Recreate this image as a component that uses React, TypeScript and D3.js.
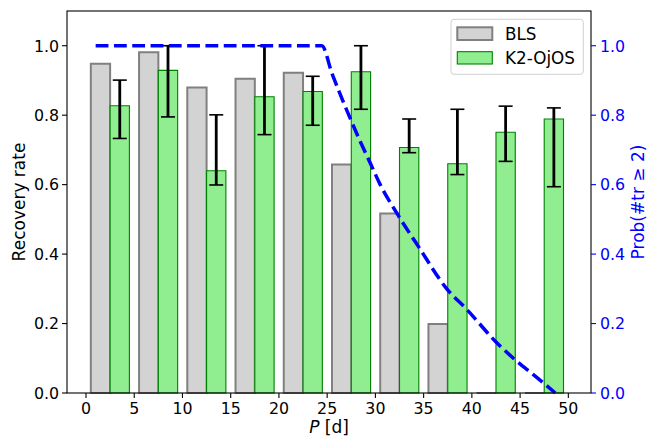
import React from "react";
import * as d3 from "d3";

// Data
const binStarts = [0, 5, 10, 15, 20, 25, 30, 35, 40, 45];
const blsRate = [0.948, 0.981, 0.88, 0.905, 0.922, 0.658, 0.517, 0.199, 0, 0];
const k2Rate = [0.827, 0.929, 0.64, 0.853, 0.868, 0.925, 0.707, 0.66, 0.751, 0.789];
const k2ErrHigh = [0.901, 1.0, 0.801, 1.0, 0.912, 1.0, 0.789, 0.817, 0.826, 0.821];
const k2ErrLow = [0.733, 0.795, 0.599, 0.744, 0.771, 0.817, 0.692, 0.629, 0.667, 0.594];

const probP = [1.0, 24.45, 25.5, 26.5, 27.4, 28.5, 29.5, 30.5, 32.4, 34.5, 37.4, 39.5, 42.4, 44.5, 46.5, 48.65];
const probVal = [1.0, 1.0, 0.92, 0.85, 0.79, 0.72, 0.66, 0.6, 0.51, 0.42, 0.3, 0.24, 0.15, 0.095, 0.05, 0.0];

const xTicks = [0, 5, 10, 15, 20, 25, 30, 35, 40, 45, 50];
const yTicks = [0, 0.2, 0.4, 0.6, 0.8, 1.0];
const legendLabels = ["BLS", "K2-OjOS"];

const W = 648;
const H = 438;
const L = 67, R = 591, T = 11, B = 393;
const FONT = "DejaVu Sans, sans-serif";
const FS = 15.8;
const LFS = 17;

export default function App() {
  const x = d3.scaleLinear().domain([-1.97, 52.35]).range([L, R]);
  const y = d3.scaleLinear().domain([0, 1.1]).range([B, T]);
  const y2 = d3.scaleLinear().domain([0, 1.1]).range([B, T]);
  const barW = 2;

  const barPath = (x0: number, v: number) => {
    const p = d3.path();
    const xa = x(x0), xb = x(x0 + barW), yt = y(v), yb = y(0);
    p.moveTo(xa, yb);
    p.lineTo(xa, yt);
    p.lineTo(xb, yt);
    p.lineTo(xb, yb);
    p.closePath();
    return p.toString();
  };

  const line = d3
    .line<number>()
    .x((_, i) => x(probP[i]))
    .y((d) => y2(d))
    .curve(d3.curveMonotoneX);

  return (
    <svg
      width={W}
      height={H}
      style={{ position: "absolute", left: 0, top: 0, background: "#fff" }}
      fontFamily={FONT}
    >
      <rect x={0} y={0} width={W} height={H} fill="#fff" />
      {/* BLS bars */}
      {binStarts.map((s, i) => (
        <path
          key={"b" + i}
          d={barPath(s + 0.5, blsRate[i])}
          fill="#d3d3d3"
          stroke="#808080"
          strokeWidth={2}
        />
      ))}
      {/* K2 bars */}
      {binStarts.map((s, i) => (
        <path
          key={"k" + i}
          d={barPath(s + 2.5, k2Rate[i])}
          fill="#90ee90"
          stroke="#008000"
          strokeWidth={1.1}
        />
      ))}
      {/* error bars */}
      {binStarts.map((s, i) => {
        const cx = x(s + 3.5);
        return (
          <g key={"e" + i} stroke="#000">
            <line x1={cx} x2={cx} y1={y(k2ErrLow[i])} y2={y(k2ErrHigh[i])} strokeWidth={2.8} />
            <line x1={cx - 7} x2={cx + 7} y1={y(k2ErrLow[i])} y2={y(k2ErrLow[i])} strokeWidth={1.6} />
            <line x1={cx - 7} x2={cx + 7} y1={y(k2ErrHigh[i])} y2={y(k2ErrHigh[i])} strokeWidth={1.6} />
          </g>
        );
      })}
      {/* dashed probability line */}
      <path
        d={line(probVal) || ""}
        fill="none"
        stroke="#0000ff"
        strokeWidth={3.5}
        strokeDasharray="12.8 5.5"
      />
      {/* spines */}
      <rect x={L} y={T} width={R - L} height={B - T} fill="none" stroke="#000" strokeWidth={1.1} />
      {/* x ticks */}
      {xTicks.map((t) => (
        <g key={"xt" + t}>
          <line x1={x(t)} x2={x(t)} y1={B} y2={B + 5} stroke="#000" strokeWidth={1.1} />
          <text x={x(t)} y={B + 21} fontSize={FS} textAnchor="middle" fill="#000">
            {t}
          </text>
        </g>
      ))}
      {/* left y ticks */}
      {yTicks.map((t) => (
        <g key={"yt" + t}>
          <line x1={L - 5} x2={L} y1={y(t)} y2={y(t)} stroke="#000" strokeWidth={1.1} />
          <text x={L - 8} y={y(t) + 5.8} fontSize={FS} textAnchor="end" fill="#000">
            {t.toFixed(1)}
          </text>
        </g>
      ))}
      {/* right y ticks */}
      {yTicks.map((t) => (
        <g key={"yr" + t}>
          <line x1={R} x2={R + 5} y1={y2(t)} y2={y2(t)} stroke="#0000ff" strokeWidth={1.1} />
          <text x={R + 9} y={y2(t) + 5.8} fontSize={FS} textAnchor="start" fill="#0000ff">
            {t.toFixed(1)}
          </text>
        </g>
      ))}
      {/* axis labels */}
      <text x={(L + R) / 2} y={B + 39.5} fontSize={LFS} textAnchor="middle" fill="#000">
        <tspan fontStyle="italic">P</tspan> [d]
      </text>
      <text
        transform={`translate(25,${(T + B) / 2}) rotate(-90)`}
        fontSize={LFS}
        textAnchor="middle"
        fill="#000"
      >
        Recovery rate
      </text>
      <text
        transform={`translate(643.5,${(T + B) / 2}) rotate(-90)`}
        fontSize={LFS}
        textAnchor="middle"
        fill="#0000ff"
      >
        Prob(#tr ≥ 2)
      </text>
      {/* legend */}
      <g>
        <rect x={451} y={19.3} width={132.3} height={55} rx={3} fill="#fff" fillOpacity={0.8} stroke="#d0d0d0" strokeWidth={1} />
        <rect x={457.3} y={27.3} width={35} height={12.7} fill="#d3d3d3" stroke="#808080" strokeWidth={2} />
        <rect x={457.3} y={51.7} width={35} height={12.3} fill="#90ee90" stroke="#008000" strokeWidth={1.1} />
        <text x={505} y={40} fontSize={16.8} fill="#000">{legendLabels[0]}</text>
        <text x={505} y={64.3} fontSize={16.8} fill="#000">{legendLabels[1]}</text>
      </g>
    </svg>
  );
}
